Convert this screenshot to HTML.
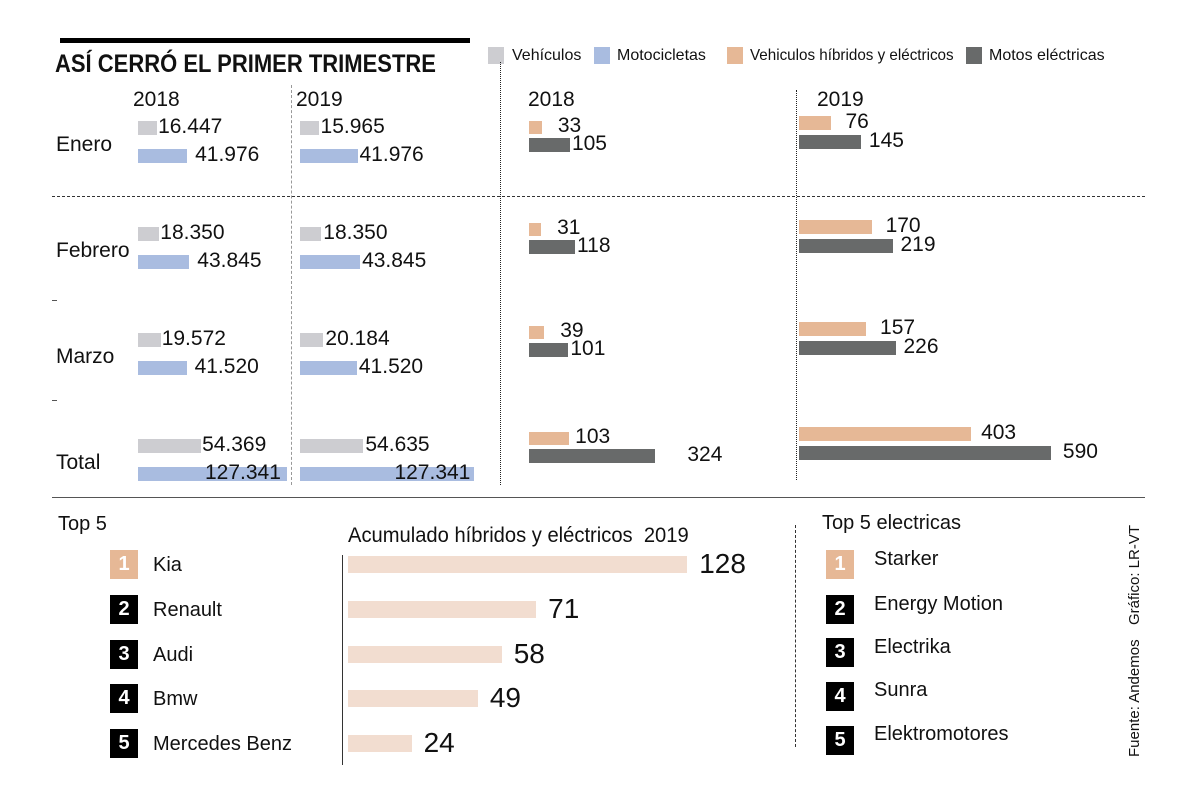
<!DOCTYPE html>
<html><head><meta charset="utf-8">
<style>
body{margin:0;background:#fff;}
#c{position:relative;width:1200px;height:797px;overflow:hidden;background:#fff;font-family:"Liberation Sans Narrow","Liberation Sans",sans-serif;color:#111;}
.a{position:absolute;white-space:nowrap;}
.t{position:absolute;white-space:nowrap;line-height:1;}
.box{position:absolute;width:28px;height:29px;background:#000;color:#fff;font-family:"Liberation Sans",sans-serif;font-weight:bold;font-size:20px;text-align:center;line-height:29px;}
</style></head><body>
<div id="c">
<div class="a" style="left:60px;top:38px;width:410px;height:5px;background:#000"></div>
<div class="t" style="left:55px;top:52px;font-size:25px;font-weight:bold;transform:scaleX(0.88);transform-origin:0 0;">ASÍ CERRÓ EL PRIMER TRIMESTRE</div>

<div class="a" style="left:488px;top:47px;width:16px;height:17px;background:#cdcdd1"></div>
<div class="t" style="left:512px;top:48px;font-size:16px">Vehículos</div>
<div class="a" style="left:594px;top:47px;width:16px;height:17px;background:#a9bce0"></div>
<div class="t" style="left:617px;top:48px;font-size:16px">Motocicletas</div>
<div class="a" style="left:727px;top:47px;width:16px;height:17px;background:#e6b896"></div>
<div class="t" style="left:750px;top:48px;font-size:16px;transform:scaleX(0.95);transform-origin:0 0">Vehiculos híbridos y eléctricos</div>
<div class="a" style="left:966px;top:47px;width:16px;height:17px;background:#686a6a"></div>
<div class="t" style="left:989px;top:48px;font-size:16px">Motos eléctricas</div>

<div class="t" style="left:133px;top:89px;font-size:21px">2018</div>
<div class="t" style="left:296px;top:89px;font-size:21px">2019</div>
<div class="t" style="left:528px;top:89px;font-size:21px">2018</div>
<div class="t" style="left:817px;top:89px;font-size:21px">2019</div>

<div class="a" style="left:52px;top:196px;width:1093px;border-top:1.5px dashed #333"></div>
<div class="a" style="left:52px;top:300px;width:5px;border-top:1px solid #555"></div>
<div class="a" style="left:52px;top:400px;width:5px;border-top:1px solid #555"></div>
<div class="a" style="left:52px;top:497px;width:1093px;border-top:1.5px solid #555"></div>
<div class="a" style="left:291px;top:85px;height:400px;border-left:1px dashed #999"></div>
<div class="a" style="left:500px;top:62px;height:423px;border-left:1.5px dotted #222"></div>
<div class="a" style="left:796px;top:90px;height:390px;border-left:1.5px dotted #222"></div>

<div class="t" style="left:58px;top:514px;font-size:20px;font-family:'Liberation Sans',sans-serif">Top 5</div>
<div class="t" style="left:348px;top:525px;font-size:21px;transform:scaleX(0.96);transform-origin:0 0">Acumulado híbridos y eléctricos&nbsp; 2019</div>
<div class="a" style="left:342px;top:555px;height:210px;border-left:1.5px solid #333"></div>
<div class="t" style="left:822px;top:513px;font-size:20px;font-family:'Liberation Sans',sans-serif">Top 5 electricas</div>
<div class="a" style="left:795px;top:525px;height:222px;border-left:1px dashed #333"></div>
<div class="t" style="left:1127px;top:625px;font-size:15px;transform:rotate(-90deg);transform-origin:0 0">Gráfico: LR-VT</div>
<div class="t" style="left:1127px;top:757px;font-size:15px;transform:rotate(-90deg);transform-origin:0 0">Fuente: Andemos</div>
</div>
<script>
const months=["Enero","Febrero","Marzo","Total"];
const veh2018=[16447,18350,19572,54369];
const moto2018=[41976,43845,41520,127341];
const veh2019=[15965,18350,20184,54635];
const moto2019=[41976,43845,41520,127341];
const hib2018=[33,31,39,103];
const motoe2018=[105,118,101,324];
const hib2019=[76,170,157,403];
const motoe2019=[145,219,226,590];
const top5=["Kia","Renault","Audi","Bmw","Mercedes Benz"];
const acum=[128,71,58,49,24];
const top5e=["Starker","Energy Motion","Electrika","Sunra","Elektromotores"];

const C=document.getElementById('c');
function mk(cls,css,txt){const d=document.createElement('div');d.className=cls;d.style.cssText=css;if(txt!==undefined)d.textContent=txt;C.appendChild(d);return d;}
function fmt(v){return v>=1000?String(v).replace(/\B(?=(\d{3})+(?!\d))/g,'.'):String(v);}
const rowY=i=>128+i*106;
const hybY=i=>[127,229,332,438][i];
const hyb19Y=i=>[123,227,329,434][i];
const sVeh=v=>v*0.00116;
const sM18=v=>v*0.00117;
const sM19=v=>v*0.00137;
const s18=v=>v*0.39;
const s19=v=>v*0.427;

function bar(x0,yc,w,h,col,val,name,fs,dx){
  const b=mk('a',`left:${x0}px;top:${yc-h/2}px;width:${w}px;height:${h}px;background:${col}`);
  
  
  const t=mk('t',`left:${x0+w+dx}px;top:${yc-fs*0.55}px;font-size:${fs}px`,fmt(val));
  
  
}
months.forEach((m,i)=>{
  const l=mk('t',`left:56px;top:${rowY(i)+17-11}px;font-size:21px`,m);
  
  
  bar(138,rowY(i),sVeh(veh2018[i]),14,'#cdcdd1',veh2018[i],'veh-2018-'+m.toLowerCase(),21,1);
  bar(138,rowY(i)+28,sM18(moto2018[i]),14,'#a9bce0',moto2018[i],'moto-2018-'+m.toLowerCase(),21,i==3?-82:8);
  bar(300,rowY(i),sVeh(veh2019[i]),14,'#cdcdd1',veh2019[i],'veh-2019-'+m.toLowerCase(),21,2);
  bar(300,rowY(i)+28,sM19(moto2019[i]),14,'#a9bce0',moto2019[i],'moto-2019-'+m.toLowerCase(),21,i==3?-80:2);
  bar(529,hybY(i),s18(hib2018[i]),13,'#e6b896',hib2018[i],'hib-2018-'+m.toLowerCase(),21,i==3?6:16);
  bar(529,hybY(i)+18,s18(motoe2018[i]),14,'#686a6a',motoe2018[i],'motoe-2018-'+m.toLowerCase(),21,i==3?32:2);
  bar(799,hyb19Y(i),s19(hib2019[i]),14,'#e6b896',hib2019[i],'hib-2019-'+m.toLowerCase(),21,i==3?10:14);
  bar(799,hyb19Y(i)+19,s19(motoe2019[i]),14,'#686a6a',motoe2019[i],'motoe-2019-'+m.toLowerCase(),21,i==3?12:8);
});
const topY=[565,610,655,699,744];
top5.forEach((n,i)=>{
  const b=mk('box',`left:110px;top:${topY[i]-15}px;${i==0?'background:#e6b896':''}`,String(i+1));
  
  
  const t=mk('t',`left:153px;top:${topY[i]-10}px;font-size:20px`,n);
  
  
  const w=acum[i]*2.65;
  const r=mk('a',`left:348px;top:${topY[i]-9}px;width:${w}px;height:17px;background:#f2ddd0`);
  
  
  const v=mk('t',`left:${348+w+12}px;top:${topY[i]-15}px;font-size:28px`,String(acum[i]));
  
  
});
const eY=[565,610,653,697,741];
const eT=[559,604,647,690,734];
top5e.forEach((n,i)=>{
  const b=mk('box',`left:826px;top:${eY[i]-15}px;${i==0?'background:#e6b896':''}`,String(i+1));
  
  
  const t=mk('t',`left:874px;top:${eT[i]-10}px;font-size:20px`,n);
  
  
});
</script>
</body></html>
